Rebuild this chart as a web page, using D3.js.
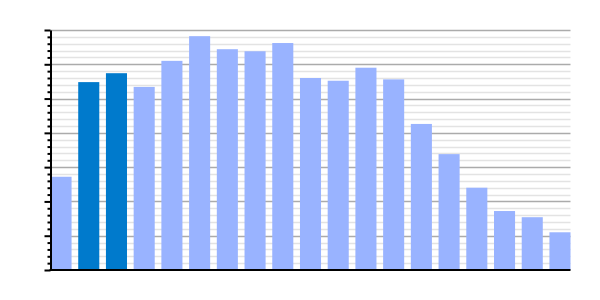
<!DOCTYPE html>
<head>
  <meta charset="utf-8">
  <script src="https://d3js.org/d3.v7.min.js"></script>
  <style>
body { margin: 0; background: white; }
svg { display: block; background-color: white; }
  </style>
</head>
<body>
<svg width="600" height="300"></svg>
<script>
// values (no labels in the original)
var categories = ["1","2","3","4","5","6","7","8","9","10","11","12","13","14","15","16","17","18","19"];
var values = [13.6, 27.4, 28.7, 26.7, 30.5, 34.1, 32.2, 31.9, 33.1, 28.0, 27.6, 29.5, 27.8, 21.3, 16.9, 12.0, 8.6, 7.7, 5.5];
var highlighted = ["2", "3"];
var majorTicks = [0, 5, 10, 15, 20, 25, 30, 35];
var minorTicks = d3.range(0, 36, 1);

// "top" is taken by window.top, so use other names
var plotLeft = 50.5, plotRight = 570.5, plotTop = 30, plotBottom = 270;

var svg = d3.select("svg");

var x = d3.scaleBand()
          .domain(categories)
          .range([plotLeft, plotRight])
          .paddingInner(0.24)
          .paddingOuter(0);

var y = d3.scaleLinear()
          .domain([0, 35])
          .range([plotBottom, plotTop]);

var minorOnly = minorTicks.filter(function(d) { return d % 5 != 0; });

// minor grid
svg.append("g").selectAll("line")
   .data(minorOnly)
   .enter().append("line")
   .attr("x1", plotLeft).attr("x2", plotRight)
   .attr("y1", function(d) { return Math.round(y(d)) + 0.5; })
   .attr("y2", function(d) { return Math.round(y(d)) + 0.5; })
   .style("stroke", "#e3e3e3")
   .style("stroke-width", 1.5);

// major grid
svg.append("g").selectAll("line")
   .data(majorTicks.filter(function(d) { return d > 0; }))
   .enter().append("line")
   .attr("x1", plotLeft).attr("x2", plotRight)
   .attr("y1", function(d) { return Math.round(y(d)) + 0.5; })
   .attr("y2", function(d) { return Math.round(y(d)) + 0.5; })
   .style("stroke", "#ababab")
   .style("stroke-width", 1.5);

// bars
svg.append("g").selectAll("rect")
   .data(values)
   .enter().append("rect")
   .attr("x", function(d, i) { return x(categories[i]); })
   .attr("width", x.bandwidth())
   .attr("y", function(d) { return y(d); })
   .attr("height", function(d) { return y(0) - y(d); })
   .style("fill", function(d, i) {
     return highlighted.indexOf(categories[i]) >= 0 ? "#007acc" : "#99b3ff";
   });

// y axis, major and minor ticks, no labels
svg.append("g")
   .attr("transform", "translate(" + plotLeft + ",0)")
   .call(d3.axisLeft(y).tickValues(minorOnly).tickSize(3).tickFormat(""))
   .call(function(g) { g.select(".domain").remove(); })
   .selectAll("line").style("stroke", "black").style("stroke-width", 2);

svg.append("g")
   .attr("transform", "translate(" + plotLeft + ",0)")
   .call(d3.axisLeft(y).tickValues(majorTicks).tickSize(6).tickSizeOuter(0).tickFormat(""))
   .call(function(g) {
     g.select(".domain").style("stroke", "black").style("stroke-width", 2);
     g.selectAll("line").style("stroke", "black").style("stroke-width", 2);
   });

// x baseline
svg.append("line")
   .attr("x1", plotLeft - 1).attr("x2", plotRight)
   .attr("y1", plotBottom).attr("y2", plotBottom)
   .style("stroke", "black")
   .style("stroke-width", 2);
</script>
</body>
</html>
